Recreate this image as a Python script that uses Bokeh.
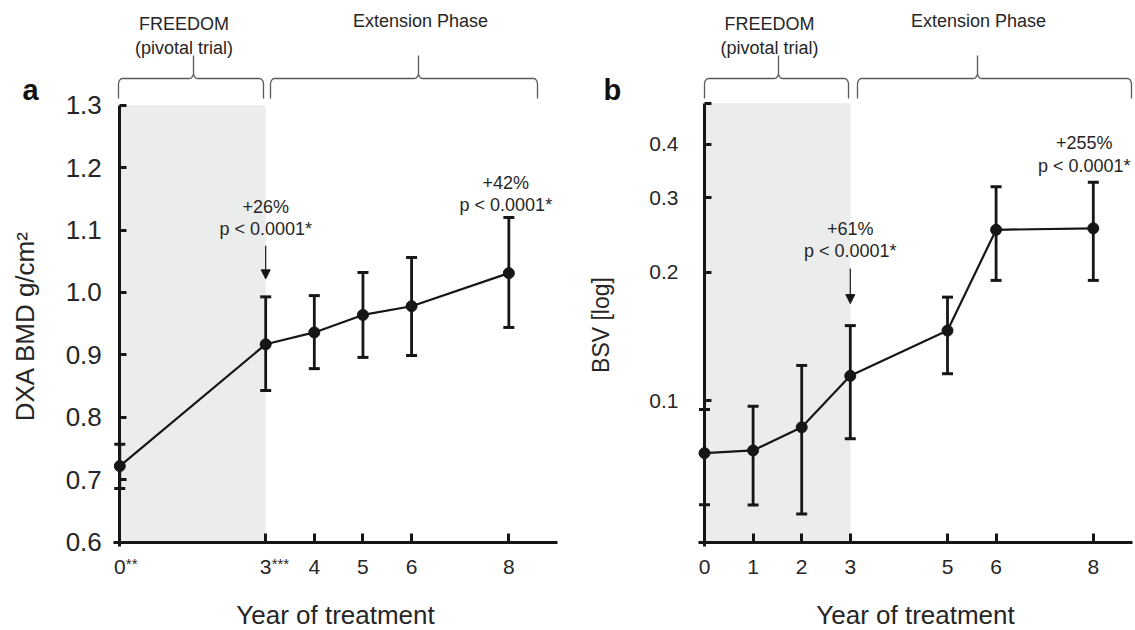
import numpy as np
from bokeh.plotting import figure
from bokeh.layouts import row
from bokeh.models import (Range1d, FixedTicker, PrintfTickFormatter, BoxAnnotation,
                          Label, Arrow, NormalHead, ColumnDataSource)
from bokeh.embed import file_html
from bokeh.resources import INLINE

# ---------------- data ----------------
# Panel a: DXA BMD (g/cm2)
years_a = [0, 3, 4, 5, 6, 8]
bmd_mean = [0.722, 0.917, 0.936, 0.964, 0.978, 1.031]
bmd_upper = [0.757, 0.993, 0.995, 1.032, 1.056, 1.120]
bmd_lower = [0.686, 0.843, 0.878, 0.896, 0.899, 0.944]
xticks_a = [0, 3, 4, 5, 6, 8]
yticks_a = [0.6, 0.7, 0.8, 0.9, 1.0, 1.1, 1.2, 1.3]
xtick_marks_a = {0: "**", 3: "***"}
callouts_a = [(3, "+26%", "p < 0.0001*"), (8, "+42%", "p < 0.0001*")]

# Panel b: BSV (log)
years_b = [0, 1, 2, 3, 5, 6, 8]
bsv_mean = [0.0752, 0.0763, 0.0865, 0.1143, 0.146, 0.252, 0.254]
bsv_upper = [0.0953, 0.0970, 0.1209, 0.150, 0.175, 0.318, 0.326]
bsv_lower = [0.0569, 0.0568, 0.0541, 0.0813, 0.1156, 0.1916, 0.1916]
xticks_b = [0, 1, 2, 3, 5, 6, 8]
yticks_b = [0.1, 0.2, 0.3, 0.4, 0.5]
callouts_b = [(3, "+61%", "p < 0.0001*"), (8, "+255%", "p < 0.0001*")]

# study phases (years)
pivotal_phase = [0, 3]
phase_names = ["FREEDOM", "(pivotal trial)", "Extension Phase"]

FONT = "Liberation Sans"
INK = "#161616"
TXT = "#262626"
GRAY = "#ebedec"
BRACE = "#5a5a5a"
H = 630

# ---------------- pixel layout (page px) ----------------
WA, WB = 570, 565
A_X0, A_SX, A_Y0, A_SY = 119.3, 48.63, 541.7, 624.3     # panel a: year0 px, px/yr, y(0.6) px, px/unit
B_X0, B_SX, B_Y0, B_SY = 704.0 - WA, 48.6, 400.0, 425.3  # panel b: year0 px, px/yr, y(0.1) px, px/decade


def ax_(px):
    return (px - A_X0) / A_SX


def ay_(py):
    return yticks_a[0] + (A_Y0 - py) / A_SY


def bx_(px):
    return (px - B_X0) / B_SX


def by_(py):
    return 10 ** (np.log10(yticks_b[0]) + (B_Y0 - py) / B_SY)


def style_axes(p, ylab, ytick_size, ylab_size, y_std, ylab_std):
    for ax in (p.xaxis[0], p.yaxis[0]):
        ax.axis_line_width = 3
        ax.axis_line_color = INK
        ax.major_tick_line_width = 3
        ax.major_tick_line_color = INK
        ax.major_tick_out = 0
        ax.minor_tick_line_color = None
        ax.major_label_text_font = FONT
        ax.major_label_text_font_size = "21px"
        ax.major_label_text_color = TXT
        ax.axis_label_text_font = FONT
        ax.axis_label_text_font_style = "normal"
        ax.axis_label_text_color = TXT
    p.xaxis.major_tick_in = 9
    p.yaxis.major_tick_in = 7
    p.xaxis.major_label_standoff = 18
    p.yaxis.major_label_standoff = y_std
    p.yaxis.major_label_text_font_size = ytick_size
    p.xaxis.axis_label = "Year of treatment"
    p.xaxis.axis_label_text_font_size = "26px"
    p.xaxis.axis_label_standoff = 22
    p.yaxis.axis_label = ylab
    p.yaxis.axis_label_text_font_size = ylab_size
    p.yaxis.axis_label_standoff = ylab_std
    p.grid.visible = False
    p.outline_line_color = None


def draw_series(p, xs, m, lo, hi):
    src = ColumnDataSource(dict(x=xs, y=m, lo=lo, hi=hi))
    p.segment(x0="x", y0="lo", x1="x", y1="hi", source=src, line_width=2.8, color=INK)
    p.scatter(x="x", y="hi", marker="dash", size=11, line_width=3, color=INK, source=src)
    p.scatter(x="x", y="lo", marker="dash", size=11, line_width=3, color=INK, source=src)
    p.line(x="x", y="y", line_width=2.2, color=INK, source=src)
    p.scatter(x="x", y="y", size=11, color=INK, source=src)


def brace_px(x0, x1, xm, yb=98, yl=78, yt=55, rx=4, ry=6):
    """curly bracket path in page pixels (y downwards)"""
    t = np.linspace(0, np.pi / 2, 14)
    xs, ys = [x0], [yb]
    xs += list(x0 + rx - rx * np.cos(t)); ys += list(yl + ry - ry * np.sin(t))
    xs += list(xm - rx + rx * np.sin(t)); ys += list(yl - ry + ry * np.cos(t))
    xs += [xm]; ys += [yt]
    xs += list(xm + rx - rx * np.sin(t[::-1])); ys += list(yl - ry + ry * np.cos(t[::-1]))
    xs += list(x1 - rx + rx * np.cos(t[::-1])); ys += list(yl + ry - ry * np.sin(t[::-1]))
    xs += [x1]; ys += [yb]
    return np.array(xs), np.array(ys)


def txt(p, x, y, s, size="18px", dx=0, dy=0, align="center", baseline="middle",
        style="normal", color=TXT):
    p.add_layout(Label(x=x, y=y, x_offset=dx, y_offset=dy, text=s, text_font=FONT,
                       text_font_size=size, text_font_style=style, text_color=color,
                       text_align=align, text_baseline=baseline))


def add_phases(p, fx, fy, off, braces, letter, letter_px):
    for (x0, x1, xm, xt, names) in braces:
        xs, ys = brace_px(x0 - off, x1 - off, xm - off)
        p.line(fx(xs), fy(ys), line_width=1.3, color=BRACE)
        if len(names) == 2:
            txt(p, fx(xt - off), fy(23), names[0])
            txt(p, fx(xt - off), fy(47), names[1])
        else:
            txt(p, fx(xt - off), fy(20), names[0])
    txt(p, fx(letter_px[0] - off), fy(letter_px[1]), letter, size="29px", align="left",
        baseline="alphabetic", style="bold", color="#111111")


# ---------------- panel a ----------------
pa = figure(frame_width=WA, frame_height=H, x_range=Range1d(ax_(0), ax_(WA)),
            y_range=Range1d(ay_(H), ay_(0)), min_border=0, title=None,
            output_backend="svg", toolbar_location=None)
pa.add_layout(BoxAnnotation(left=pivotal_phase[0], right=pivotal_phase[1], bottom=yticks_a[0],
                            top=yticks_a[-1], fill_color=GRAY, fill_alpha=1, line_alpha=0,
                            level="underlay"))
style_axes(pa, "DXA BMD g/cm\u00b2", "26px", "26px", 18, 22)
pa.xaxis.fixed_location = yticks_a[0]
pa.yaxis.fixed_location = xticks_a[0]
pa.xaxis.bounds = (ax_(A_X0 - 6), 9.0)
pa.yaxis.bounds = (ay_(A_Y0 + 4), yticks_a[-1])
pa.xaxis.ticker = FixedTicker(ticks=xticks_a)
pa.yaxis.ticker = FixedTicker(ticks=yticks_a)
pa.yaxis.formatter = PrintfTickFormatter(format="%.1f")
draw_series(pa, years_a, bmd_mean, bmd_lower, bmd_upper)
for xv, mark in xtick_marks_a.items():
    txt(pa, xv, yticks_a[0], mark, size="15px", dx=6, dy=-13, align="left", baseline="top")
for xv, l1, l2 in callouts_a:
    hi = bmd_upper[years_a.index(xv)]
    if xv == 3:
        tip = hi + 18 / A_SY
        start = hi + 51 / A_SY
        pa.add_layout(Arrow(end=NormalHead(size=9, fill_color=INK, line_color=INK, line_width=1),
                            x_start=xv, y_start=start, x_end=xv, y_end=tip,
                            line_width=1.2, line_color=INK))
        base, o1, o2, dx = start, 39, 17, 0
    else:
        base, o1, o2, dx = hi, 35, 13, -3
    txt(pa, xv, base, l1, dx=dx, dy=o1)
    txt(pa, xv, base, l2, dx=dx, dy=o2)
add_phases(pa, ax_, ay_, 0,
           [(118, 263, 193, 183.5, phase_names[:2]), (270, 537, 418, 420, phase_names[2:])],
           "a", (22, 89))

# ---------------- panel b ----------------
b_axis_y = by_(541.7)
pb = figure(frame_width=WB, frame_height=H, x_range=Range1d(bx_(0), bx_(WB)),
            y_range=Range1d(by_(H), by_(0)), y_axis_type="log", min_border=0, title=None,
            output_backend="svg", toolbar_location=None)
pb.add_layout(BoxAnnotation(left=pivotal_phase[0], right=pivotal_phase[1], bottom=b_axis_y,
                            top=yticks_b[-1], fill_color=GRAY, fill_alpha=1, line_alpha=0,
                            level="underlay"))
style_axes(pb, "BSV [log]", "21px", "23px", 26, 32)
pb.xaxis.fixed_location = b_axis_y
pb.yaxis.fixed_location = xticks_b[0]
pb.xaxis.bounds = (bx_(B_X0 - 6), 8.8)
pb.yaxis.bounds = (by_(541.7 + 4), yticks_b[-1])
pb.xaxis.ticker = FixedTicker(ticks=xticks_b)
pb.yaxis.ticker = FixedTicker(ticks=yticks_b)
pb.yaxis.formatter = PrintfTickFormatter(format="%.1f")
pb.yaxis.major_label_overrides = {0.5: ""}
draw_series(pb, years_b, bsv_mean, bsv_lower, bsv_upper)
for xv, l1, l2 in callouts_b:
    hi = bsv_upper[years_b.index(xv)]
    if xv == 3:
        tip = hi * 10 ** (22 / B_SY)
        start = hi * 10 ** (57 / B_SY)
        pb.add_layout(Arrow(end=NormalHead(size=9, fill_color=INK, line_color=INK, line_width=1),
                            x_start=xv, y_start=start, x_end=xv, y_end=tip,
                            line_width=1.2, line_color=INK))
        base, o1, o2, dx = start, 40, 18, 0
    else:
        base, o1, o2, dx = hi, 39, 16, -9
    txt(pb, xv, base, l1, dx=dx, dy=o1)
    txt(pb, xv, base, l2, dx=dx, dy=o2)
add_phases(pb, bx_, by_, WA,
           [(704, 848, 778, 769, phase_names[:2]), (857, 1131, 977, 978, phase_names[2:])],
           "b", (603, 89))

layout = row(pa, pb)
open("out.html", "w").write(file_html(layout, INLINE))
